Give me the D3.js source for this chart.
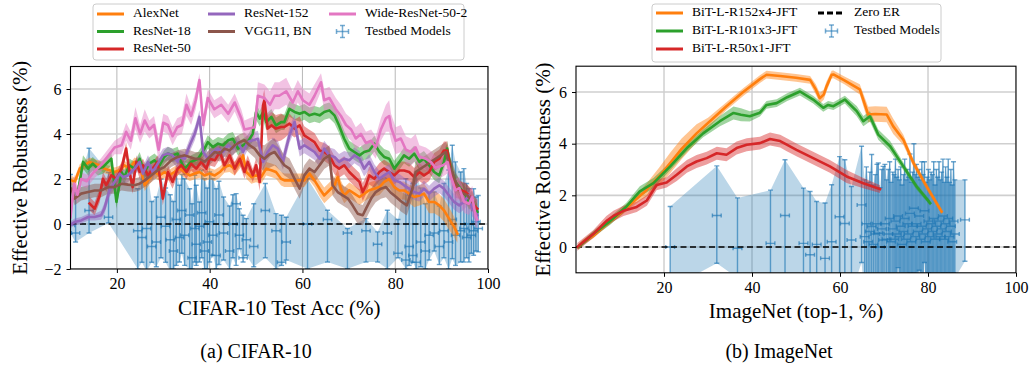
<!DOCTYPE html>
<html><head><meta charset="utf-8">
<script src="https://cdn.jsdelivr.net/npm/d3@7"></script>
<style>
body{margin:0;background:#fff}
svg{display:block}
text{font-family:"Liberation Serif","Times New Roman",serif;fill:#000}
</style>
</head><body>
<svg id="c" width="1030" height="370"></svg>
<script>
// ---------------- CIFAR-10 data: [acc, effective robustness, band half-width] ----------------
const cifarAlexNet = [[10.2,1.94,.2],[10.9,1.87,.2],[12.0,2.46,.2],[13.0,2.61,.2],[14.1,2.76,.2],[15.2,2.68,.2],[16.3,2.61,.2],[17.3,2.46,.2],[18.4,2.39,.2],[19.5,2.31,.2],[20.6,2.39,.2],[21.6,2.61,.2],[22.7,2.46,.2],[23.8,2.76,.2],[24.9,2.61,.25],[26.0,1.72,.25],[27.0,2.01,.25],[28.1,2.31,.25],[29.2,2.16,.25],[30.3,2.31,.25],[31.3,2.16,.25],[32.4,2.31,.25],[33.5,2.46,.25],[34.6,2.31,.25],[35.7,2.16,.25],[36.8,2.24,.25],[37.8,2.31,.25],[38.9,2.16,.25],[40.0,2.24,.25],[41.1,2.16,.25],[42.2,2.31,.25],[43.2,2.53,.25],[44.3,2.61,.3],[45.4,2.46,.3],[46.5,2.76,.3],[47.2,3.05,.3],[47.9,2.31,.3],[49.0,2.09,.3],[50.0,2.16,.3],[51.1,2.09,.3],[52.2,2.46,.3],[53.3,2.39,.3],[54.3,2.31,.3],[55.4,2.01,.3],[56.1,1.94,.3],[57.2,1.94,.3],[58.3,1.94,.3],[59.4,1.94,.3],[60.4,1.94,.3],[61.5,2.24,.3],[62.6,1.94,.3],[63.7,1.57,.35],[64.7,1.27,.35],[65.8,1.5,.35],[66.9,1.72,.35],[67.6,2.09,.35],[68.3,1.57,.35],[69.0,1.27,.35],[70.1,1.5,.35],[71.2,1.35,.35],[72.3,1.2,.35],[73.3,1.35,.35],[74.4,1.5,.35],[75.5,1.57,.35],[76.6,1.64,.35],[77.6,1.87,.35],[78.7,2.0,.35],[79.8,1.64,.4],[80.9,1.49,.4],[81.9,1.49,.4],[83.0,1.35,.4],[84.1,1.2,.45],[85.2,1.27,.45],[86.2,1.35,.45],[87.3,0.98,.5],[88.4,0.98,.5],[89.5,0.83,.5],[90.5,0.61,.5],[91.6,0.24,.5],[92.7,-0.13,.45],[93.4,-0.43,.4]];
const cifarResNet18 = [[11.6,1.4,.3],[12.7,2.76,.3],[13.8,2.46,.3],[14.8,2.68,.3],[15.9,2.46,.3],[17.0,2.53,.3],[18.1,2.76,.3],[18.8,2.9,.3],[19.9,0.98,.3],[21.0,2.31,.3],[21.6,2.09,.3],[22.7,2.61,.3],[23.8,2.46,.3],[24.9,2.9,.3],[25.9,2.31,.3],[27.0,2.68,.3],[28.1,2.83,.3],[29.2,2.61,.3],[30.2,2.98,.3],[31.0,3.13,.3],[32.0,3.05,.3],[33.1,3.13,.3],[33.5,2.9,.3],[34.6,2.46,.3],[36.0,2.76,.3],[37.5,2.9,.3],[38.9,3.35,.3],[39.6,3.64,.3],[40.7,3.42,.3],[41.8,3.57,.3],[42.9,3.5,.3],[44.0,3.72,.3],[45.0,3.79,.3],[46.1,3.35,.3],[47.2,3.5,.3],[48.2,3.64,.3],[49.3,4.02,.35],[50.0,4.98,.35],[50.8,4.68,.35],[51.5,4.98,.35],[52.2,4.53,.35],[53.3,4.76,.35],[54.3,4.38,.35],[55.4,4.53,.35],[56.1,4.53,.35],[57.2,5.12,.35],[58.3,4.98,.35],[59.4,4.9,.35],[60.4,4.98,.35],[61.5,4.83,.35],[62.6,4.9,.35],[63.7,4.83,.35],[64.7,4.98,.35],[65.8,5.05,.35],[66.9,4.83,.35],[67.9,4.38,.35],[69.0,3.79,.35],[70.1,3.35,.35],[71.2,3.2,.35],[72.3,3.05,.35],[73.3,3.2,.35],[74.4,3.27,.35],[75.5,3.57,.35],[76.6,3.2,.35],[77.6,2.98,.35],[78.7,2.9,.35],[79.8,2.46,.35],[80.9,2.76,.35],[81.9,3.05,.35],[83.0,2.9,.35],[84.1,3.13,.35],[85.2,2.76,.35],[86.2,2.9,.35],[87.3,2.61,.35],[88.4,2.31,.35],[89.5,2.16,.35],[90.5,2.76,.35],[91.2,3.35,.35],[92.0,2.46,.35],[93.0,1.87,.35],[94.1,1.57,.35],[95.2,1.27,.35],[95.9,0.98,.35],[96.6,1.13,.35],[97.3,0.68,.35],[97.7,0.54,.35]];
const cifarResNet50 = [[14.1,0.91,.3],[15.2,0.68,.3],[16.3,1.27,.3],[17.0,2.01,.3],[17.7,1.72,.3],[18.8,2.16,.3],[19.9,2.01,.3],[21.0,2.46,.3],[22.0,3.35,.3],[22.7,2.31,.3],[23.4,1.64,.3],[24.2,2.76,.3],[24.9,2.31,.3],[25.6,2.61,.3],[26.7,2.16,.3],[27.7,2.46,.3],[28.8,2.76,.3],[29.9,1.13,.3],[31.0,2.31,.3],[32.0,1.87,.3],[33.1,2.46,.3],[33.9,2.61,.3],[35.0,2.31,.3],[36.0,2.68,.3],[37.1,2.46,.3],[38.2,2.76,.3],[39.3,2.46,.3],[40.0,2.9,.3],[41.1,2.83,.3],[42.2,3.2,.3],[43.2,2.61,.3],[44.3,3.05,.3],[45.4,2.46,.3],[46.5,2.9,.3],[47.5,2.31,.3],[48.2,2.76,.3],[49.3,2.16,.3],[50.0,2.61,.3],[50.8,1.87,.4],[51.5,5.27,.5],[51.8,5.49,.5],[52.5,4.24,.6],[53.3,4.38,.6],[54.3,4.24,.6],[55.4,4.31,.6],[56.1,4.31,.5],[57.2,4.46,.45],[58.3,4.24,.4],[59.4,4.38,.4],[60.4,3.94,.4],[61.5,3.79,.4],[62.6,3.64,.4],[63.7,3.27,.4],[64.7,3.2,.4],[65.8,3.05,.4],[66.9,2.61,.4],[67.9,2.46,.4],[69.0,2.61,.4],[70.1,2.31,.4],[71.2,2.09,.4],[72.3,1.87,.4],[73.0,1.42,.4],[73.7,1.72,.4],[74.4,2.16,.4],[75.5,2.01,.4],[76.6,2.31,.4],[77.6,2.46,.4],[78.7,2.31,.4],[79.8,2.16,.4],[80.9,2.38,.4],[81.9,2.38,.4],[83.0,2.31,.4],[84.1,2.09,.4],[85.2,2.31,.4],[86.2,2.16,.4],[87.3,2.31,.4],[88.4,2.76,.4],[89.5,2.9,.4],[90.5,3.27,.4],[91.2,3.27,.4],[92.0,2.38,.4],[93.0,1.57,.4],[94.1,1.5,.4],[95.2,1.42,.4],[95.9,1.27,.4],[96.6,1.13,.4],[97.0,0.83,.4],[97.7,0.68,.4]];
const cifarResNet152 = [[9.8,-0.06,.15],[10.9,0.09,.15],[12.3,0.16,.15],[13.8,0.31,.15],[15.2,0.31,.15],[16.6,0.39,.2],[17.3,0.68,.25],[18.4,1.49,.3],[19.5,1.87,.3],[20.6,2.24,.3],[21.3,2.09,.3],[22.4,2.16,.3],[23.1,2.31,.3],[23.8,2.46,.3],[24.9,2.76,.3],[25.6,2.24,.3],[26.7,2.76,.3],[27.7,2.31,.3],[28.8,2.68,.3],[29.9,3.05,.3],[31.0,3.13,.3],[32.0,3.05,.3],[33.1,2.76,.3],[33.5,2.98,.3],[34.6,2.9,.3],[35.7,3.5,.3],[36.8,4.02,.3],[37.8,4.76,.3],[38.6,3.2,.3],[39.6,2.9,.3],[40.7,3.2,.3],[41.8,3.35,.3],[42.9,3.2,.3],[44.0,3.5,.3],[45.0,3.35,.3],[46.1,3.64,.3],[47.2,3.2,.3],[48.2,3.64,.35],[49.3,3.72,.35],[50.4,3.79,.35],[51.5,2.76,.35],[52.5,3.2,.35],[53.6,3.5,.35],[54.7,3.35,.35],[55.8,2.76,.35],[56.1,3.05,.35],[57.2,3.94,.35],[58.3,4.53,.35],[59.4,3.35,.35],[60.4,3.5,.35],[61.5,3.35,.35],[62.6,3.2,.35],[63.7,2.9,.35],[64.7,3.35,.35],[65.8,3.05,.35],[66.9,2.98,.35],[67.9,2.76,.35],[69.0,2.9,.35],[70.1,2.83,.35],[71.2,3.05,.35],[72.3,2.9,.35],[73.3,2.46,.35],[74.4,2.76,.35],[75.5,2.31,.35],[76.6,2.01,.35],[77.6,2.16,.35],[78.7,2.31,.35],[79.8,1.94,.35],[80.9,1.87,.35],[81.9,1.72,.35],[83.0,1.57,.35],[84.1,1.42,.35],[85.2,1.35,.35],[86.2,1.57,.35],[87.3,1.35,.35],[88.4,1.57,.35],[89.5,1.72,.35],[90.5,1.57,.35],[91.6,1.27,.35],[92.7,0.98,.35],[93.8,0.83,.35],[94.8,0.98,.35],[95.9,1.27,.35],[96.6,0.68,.35],[97.7,0.39,.35]];
const cifarVGG11 = [[9.5,1.64,.3],[10.2,1.57,.3],[10.9,1.13,.3],[12.3,1.35,.3],[13.8,1.42,.3],[15.2,1.49,.3],[16.6,1.49,.3],[18.1,1.64,.3],[19.5,1.64,.3],[21.0,1.79,.3],[22.4,1.75,.3],[23.8,1.72,.3],[24.9,1.79,.3],[26.0,1.94,.3],[27.4,2.16,.3],[28.8,2.39,.3],[30.2,2.53,.3],[31.7,2.83,.3],[33.1,2.98,.3],[34.6,3.05,.3],[35.7,2.98,.3],[36.8,2.9,.3],[37.8,2.9,.3],[38.9,2.76,.3],[40.0,2.98,.35],[41.1,3.2,.35],[42.2,3.13,.35],[43.2,3.35,.35],[44.3,3.27,.35],[45.4,3.5,.35],[46.5,3.64,.35],[47.5,3.72,.35],[48.6,3.5,.35],[49.7,3.35,.4],[50.8,3.05,.5],[51.8,2.9,.6],[52.9,3.1,.6],[54.0,3.2,.6],[55.05,2.9,.5],[56.1,2.61,.45],[57.2,2.46,.45],[58.3,2.01,.45],[59.4,1.57,.45],[60.4,2.16,.45],[61.5,2.46,.45],[62.6,2.31,.45],[63.7,2.61,.45],[64.7,2.9,.45],[65.8,3.05,.45],[66.5,1.72,.45],[67.6,1.42,.45],[68.7,1.27,.45],[69.8,1.13,.45],[70.8,0.83,.45],[71.9,0.46,.45],[73.0,0.39,.45],[73.7,0.68,.45],[74.8,1.13,.45],[75.8,1.42,.45],[76.9,1.57,.45],[78.0,1.64,.45],[79.0,1.4,.45],[80.2,1.2,.45],[81.3,1.0,.45],[82.5,0.83,.45],[83.7,1.57,.45],[84.4,2.31,.45],[85.5,2.46,.45],[86.6,2.61,.45],[87.7,2.76,.45],[88.7,2.9,.45],[89.8,3.05,.45],[90.9,3.2,.45],[91.6,2.61,.45],[92.3,2.31,.45],[93.0,1.87,.45],[94.1,1.42,.45],[95.6,1.27,.45],[96.6,0.98,.45]];
const cifarWRN = [[10.0,0.3,.3],[10.8,1.8,.4],[11.5,1.3,.4],[12.3,2.0,.3],[13.5,1.9,.3],[15.0,2.3,.3],[16.5,2.6,.3],[18.0,3.0,.3],[19.5,3.4,.3],[21.0,3.5,.4],[22.0,4.1,.4],[23.0,3.7,.4],[24.0,4.7,.5],[25.0,4.0,.4],[26.0,4.6,.5],[27.0,4.2,.4],[28.0,4.4,.4],[29.0,3.3,.5],[30.0,4.5,.4],[31.0,4.4,.4],[32.0,3.9,.4],[33.0,4.3,.4],[34.0,4.4,.4],[35.0,5.3,.5],[36.0,4.8,.4],[37.0,5.5,.4],[37.8,6.4,.3],[38.6,4.4,.4],[39.6,5.6,.4],[41.0,5.1,.4],[42.5,5.3,.4],[44.0,4.9,.4],[45.4,5.4,.4],[46.8,4.7,.4],[47.5,4.2,.4],[49.7,4.3,.5],[50.4,5.7,.6],[51.8,5.6,.6],[53.0,5.3,.6],[54.0,5.7,.6],[55.0,5.7,.6],[56.5,5.9,.6],[57.9,5.4,.5],[59.0,5.9,.5],[60.1,5.5,.5],[61.5,5.3,.5],[62.6,5.7,.5],[64.0,6.3,.4],[64.7,5.5,.5],[65.8,5.6,.5],[67.2,5.1,.5],[68.3,4.8,.5],[69.4,4.4,.5],[70.5,4.2,.5],[71.5,3.8,.5],[72.6,4.0,.5],[73.7,3.6,.5],[74.8,3.7,.5],[75.8,3.4,.5],[76.9,4.2,.5],[78.0,4.7,.6],[78.7,4.8,.7],[79.1,4.3,.6],[80.1,3.7,.6],[81.2,3.8,.6],[82.3,3.3,.6],[83.4,3.2,.6],[84.4,3.4,.6],[85.2,3.0,.5],[86.6,2.9,.5],[87.7,2.75,.5],[88.7,2.5,.5],[90.2,2.6,.5],[91.3,2.75,.5],[92.0,2.1,.5],[93.0,1.5,.5],[93.8,1.6,.5],[94.8,1.0,.5],[95.9,0.9,.5],[96.6,1.2,.5],[97.3,0.4,.5],[97.7,0.2,.4]];
// testbed models: [acc, ER, lower, upper]
const cifarTestbed = [[10.0,-0.05,-0.43,2.2],[11.1,-0.4,-0.8,1.4],[14.0,0.6,-0.4,3.37],[18.2,0.3,0.05,2.3],[24.5,-0.3,-2.0,1.57],[25.4,-0.6,-1.7,2.31],[26.4,-0.2,-2.1,2.61],[27.5,-1.0,-1.7,1.0],[28.5,-0.8,-1.9,1.2],[29.5,0.3,-1.5,2.0],[30.5,-0.1,-1.7,1.6],[31.5,-0.7,-2.1,1.3],[32.2,-1.2,-2.0,1.0],[32.8,0.2,-1.84,2.31],[33.5,-0.6,-1.69,1.72],[34.0,0.6,-1.3,2.2],[34.6,-0.5,-1.84,2.01],[35.7,0.4,-1.99,1.57],[36.2,-1.5,-2.0,0.9],[36.8,-0.2,-1.69,2.16],[37.1,-0.9,-1.84,1.72],[37.8,-0.1,-1.69,0.98],[38.3,0.5,-1.5,2.4],[38.9,-1.2,-1.99,2.01],[39.5,-0.8,-2.0,1.6],[40.0,0.1,-1.69,2.31],[40.7,-0.5,-1.39,2.01],[41.4,-1.4,-1.99,1.57],[42.0,0.4,-1.8,1.9],[43.0,-0.4,-1.6,1.2],[44.3,-1.2,-2.0,0.8],[45.0,0.0,-1.5,1.3],[45.7,0.9,-1.84,1.35],[46.4,-0.5,-1.1,0.68],[47.2,-1.5,-1.69,0.39],[47.9,-0.7,-1.39,0.24],[49.5,-1.0,-1.9,0.9],[52.0,0.6,-1.5,1.8],[54.3,-0.3,-1.99,0.46],[55.5,-1.7,-1.84,0.39],[56.5,-0.8,-1.6,0.3],[61.1,0.0,-1.99,2.01],[65.4,0.2,-1.69,0.61],[69.7,-0.4,-1.99,-0.2],[73.7,-0.3,-1.69,0.24],[76.2,-0.9,-1.69,-0.35],[78.3,-0.4,-1.99,0.61],[80.6,-1.3,-1.5,0.2],[82.3,-1.6,-1.99,2.01],[83.0,-1.0,-1.84,1.3],[83.8,-1.4,-1.7,1.8],[84.5,-1.7,-1.99,2.2],[85.5,-0.8,-1.9,1.6],[86.5,-1.2,-2.0,0.9],[87.3,-0.5,-1.6,1.4],[88.4,-0.4,-1.2,1.42],[89.5,-1.0,-1.8,0.8],[90.5,-0.3,-1.5,1.8],[91.5,-0.8,-2.0,2.4],[92.3,0.2,-1.54,3.5],[93.0,-0.5,-1.84,2.76],[94.1,-0.3,-1.69,2.31],[94.8,-0.2,-1.69,2.46],[95.4,-0.6,-1.5,1.8],[95.9,0.0,-1.69,1.57],[96.4,-0.5,-1.3,1.0],[96.9,-0.3,-1.39,1.57],[97.4,0.1,-1.2,1.2],[97.9,-0.2,-1.24,1.27]];

// ---------------- ImageNet data ----------------
const inR152x4 = [[0.5,0.0,.1],[1.7,0.2,.1],[4,0.45,.1],[7,0.9,.12],[10,1.3,.12],[13,1.75,.15],[16,2.2,.25],[19,2.75,.35],[21.4,3.25,.4],[24,3.8,.4],[27.4,4.4,.35],[30,4.8,.2],[34.2,5.45,.15],[38,6.0,.15],[41.8,6.5,.15],[43.3,6.67,.15],[46.4,6.62,.15],[50,6.55,.15],[53.2,6.47,.15],[54.5,6.1,.2],[55.4,5.76,.2],[56.3,5.9,.2],[56.9,6.2,.2],[58.1,6.67,.15],[58.5,6.68,.15],[61,6.45,.15],[64.5,6.1,.2],[66.4,5.13,.3],[68,5.15,.3],[70.6,5.13,.3],[72.1,4.67,.3],[74.4,4.15,.2],[76.7,3.25,.15],[79.7,2.34,.12],[83.1,1.37,.1]];
const inR101x3 = [[0.5,0.0,.1],[3.9,0.5,.12],[7.7,1.0,.15],[11.5,1.57,.15],[14.5,2.15,.2],[17.6,2.47,.2],[21.4,3.12,.15],[25.2,3.83,.15],[28.9,4.4,.15],[32.7,4.87,.2],[35.8,5.19,.25],[37.5,5.12,.25],[39.5,5.06,.2],[41.8,5.2,.15],[43.3,5.5,.15],[45.6,5.57,.15],[48,5.8,.15],[50.9,6.02,.15],[53.9,5.71,.15],[56.2,5.39,.15],[57.3,5.5,.15],[58.5,5.45,.15],[61.1,5.71,.15],[63.8,5.26,.2],[65.3,4.87,.2],[66.8,5.06,.2],[68.7,4.35,.2],[71.4,3.9,.2],[74.4,3.12,.15],[77.4,2.34,.12],[80.5,1.7,.1]];
const inR50x1 = [[0.3,0.0,.15],[3.9,0.5,.15],[6.9,1.0,.2],[8.5,1.2,.2],[10.8,1.4,.2],[13.8,1.55,.2],[16.1,1.8,.2],[18.3,2.4,.2],[20.6,2.5,.2],[22.9,2.8,.25],[25.2,3.12,.25],[27.4,3.31,.25],[29.7,3.44,.25],[32,3.63,.25],[34.2,3.57,.25],[36.5,3.83,.25],[38.8,3.96,.25],[41.8,4.02,.25],[44.1,4.18,.25],[46.4,4.1,.25],[47.9,3.96,.25],[50.1,3.76,.25],[53.9,3.44,.25],[57.7,3.12,.25],[61.5,2.73,.25],[65.3,2.47,.2],[69.1,2.24,.15]];
const inTestbed = [[21.4,0.0,-1.6,1.57],[32.0,1.22,-0.63,3.14],[36.7,-0.05,-1.2,1.9],[44.2,0.14,-1.3,2.2],[47.5,1.22,-1.4,3.38],[51.7,0.14,-2.0,2.28],[53.2,-0.3,-2.0,2.15],[54.7,0.1,-1.6,1.76],[56.6,-0.44,-2.0,1.7],[58.1,0.2,-2.0,2.41],[59.9,1.17,-1.2,3.5],[61.1,0.91,-1.5,3.38],[62.6,0.27,-1.8,2.34],[64.9,1.63,-0.6,3.9],
[65.6,0.4,-2.0,2.6],[66.0,0.9,-1.6,3.1],[66.4,0.2,-2.2,2.5],[66.8,0.6,-1.8,2.9],[67.2,0.79,-2.0,3.58],[67.6,0.1,-2.3,2.4],[68.0,0.5,-1.9,2.8],[68.4,0.9,-1.5,3.2],[68.7,0.53,-2.0,3.25],[69.1,0.0,-2.4,2.3],[69.5,0.7,-1.7,3.0],[69.8,0.27,-2.0,3.12],[70.2,0.9,-1.4,3.2],[70.6,0.3,-2.1,2.6],[71.0,0.5,-2.0,3.0],[71.3,1.1,-1.2,3.3],[71.6,0.2,-2.2,2.5],[72.0,0.7,-1.7,2.9],[72.3,0.3,-2.2,2.8],[72.6,1.0,-1.4,3.4],[72.9,0.5,-1.9,2.7],[73.2,1.2,-0.8,3.0],[73.5,0.4,-2.0,2.6],[73.8,0.8,-1.6,3.1],[74.1,0.1,-2.3,2.4],[74.4,0.6,-1.8,2.8],[74.7,1.1,-1.2,3.4],[75.0,0.3,-2.1,2.6],[75.3,0.9,-1.4,3.0],[75.6,0.5,-1.8,2.7],[75.9,1.3,-1.0,3.6],[76.2,0.2,-2.2,2.5],[76.5,0.8,-1.5,2.9],[76.8,1.5,-1.0,4.0],[77.1,0.4,-2.0,2.8],[77.4,0.9,-1.4,3.2],[77.7,0.6,-1.6,2.7],[78.0,1.2,-0.9,3.0],[78.3,0.3,-2.0,2.6],[78.6,0.8,-1.7,3.3],[78.9,0.5,-1.6,2.8],[79.2,1.4,-0.6,3.3],[79.5,0.2,-2.1,2.5],[79.8,0.7,-1.3,2.7],[80.1,1.0,-1.0,3.0],[80.4,0.4,-1.8,2.6],[80.7,0.9,-1.1,2.9],[81.0,0.6,-1.6,2.8],[81.3,1.1,-1.1,3.3],[81.6,0.3,-1.8,2.4],[81.9,0.8,-1.4,3.0],[82.2,0.5,-1.6,2.7],[82.5,1.0,-1.2,3.3],[82.8,0.4,-1.7,2.6],[83.1,0.7,-1.4,2.9],[83.4,1.2,-1.0,3.4],[83.7,0.3,-1.8,2.5],[84.0,0.9,-1.2,3.1],[84.3,0.6,-1.5,2.7],[84.6,1.1,-1.0,3.4],[84.9,0.4,-1.5,2.5],[85.2,0.8,-1.3,3.0],[85.5,0.2,-1.6,2.4],[85.8,1.0,-1.0,3.3],[86.1,0.5,-1.2,2.6],[88.4,1.05,-0.55,2.6]];

const cifarXTicks = [20,40,60,80,100];
const cifarYTicks = [-2,0,2,4,6];
const inXTicks = [20,40,60,80,100];
const inYTicks = [0,2,4,6];

const C = {orange:"#ff7f0e", green:"#2ca02c", red:"#d62728", purple:"#9467bd", brown:"#8c564b", pink:"#e377c2", blue:"#1f77b4"};

const svg = d3.select("#c");
let clipId = 0;

function panel(cfg){
  const x = d3.scaleLinear().domain(cfg.xd).range([cfg.L, cfg.R]);
  const y = d3.scaleLinear().domain(cfg.yd).range([cfg.B, cfg.T]);
  const tb = d3.sort(cfg.tb, d => d[0]);
  const g = svg.append("g");
  const id = "clip" + (clipId++);
  g.append("clipPath").attr("id", id).append("rect")
    .attr("x", cfg.L).attr("y", cfg.T).attr("width", cfg.R - cfg.L).attr("height", cfg.B - cfg.T);
  const p = g.append("g").attr("clip-path", `url(#${id})`);
  // grid
  p.selectAll(".vg").data(cfg.xt).enter().append("line")
    .attr("x1", d => x(d)).attr("x2", d => x(d)).attr("y1", cfg.T).attr("y2", cfg.B)
    .attr("stroke", "#b0b0b0").attr("stroke-width", 0.9);
  p.selectAll(".hg").data(cfg.yt).enter().append("line")
    .attr("y1", d => y(d)).attr("y2", d => y(d)).attr("x1", cfg.L).attr("x2", cfg.R)
    .attr("stroke", "#cfcfcf").attr("stroke-width", 1.6);
  // testbed shade
  p.append("path").datum(tb)
    .attr("d", d3.area().x(d => x(d[0])).y0(d => y(d[2])).y1(d => y(d[3])))
    .attr("fill", C.blue).attr("fill-opacity", 0.3);
  // error bars
  const eb = p.append("g").attr("stroke", C.blue).attr("stroke-opacity", 0.65).attr("stroke-width", 1.4).attr("fill", "none");
  tb.forEach(d => {
    const cx = x(d[0]);
    eb.append("line").attr("x1", cx).attr("x2", cx).attr("y1", y(d[2])).attr("y2", y(d[3]));
    eb.append("line").attr("x1", cx - 2.5).attr("x2", cx + 2.5).attr("y1", y(d[2])).attr("y2", y(d[2]));
    eb.append("line").attr("x1", cx - 2.5).attr("x2", cx + 2.5).attr("y1", y(d[3])).attr("y2", y(d[3]));
    const xe = cfg.xerr;
    eb.append("line").attr("x1", x(d[0] - xe)).attr("x2", x(d[0] + xe)).attr("y1", y(d[1])).attr("y2", y(d[1]));
    eb.append("line").attr("x1", x(d[0] - xe)).attr("x2", x(d[0] - xe)).attr("y1", y(d[1]) - 2).attr("y2", y(d[1]) + 2);
    eb.append("line").attr("x1", x(d[0] + xe)).attr("x2", x(d[0] + xe)).attr("y1", y(d[1]) - 2).attr("y2", y(d[1]) + 2);
  });
  // zero line
  p.append("line").attr("x1", cfg.L).attr("x2", cfg.R).attr("y1", y(0)).attr("y2", y(0))
    .attr("stroke", "#000").attr("stroke-width", 1.6).attr("stroke-dasharray", "6,3.5");
  // bands + lines
  cfg.series.forEach(s => {
    p.append("path").datum(s.data)
      .attr("d", d3.area().x(d => x(d[0])).y0(d => y(d[1] - d[2])).y1(d => y(d[1] + d[2])))
      .attr("fill", s.color).attr("fill-opacity", 0.45);
  });
  cfg.series.forEach(s => {
    p.append("path").datum(s.data)
      .attr("d", d3.line().x(d => x(d[0])).y(d => y(d[1])))
      .attr("fill", "none").attr("stroke", s.color).attr("stroke-width", 2.6)
      .attr("stroke-linejoin", "round").attr("stroke-linecap", "square");
  });
  // frame
  g.append("rect").attr("x", cfg.L).attr("y", cfg.T).attr("width", cfg.R - cfg.L).attr("height", cfg.B - cfg.T)
    .attr("fill", "none").attr("stroke", "#000").attr("stroke-width", 1.1);
  // axes
  const ax = g.append("g").attr("transform", `translate(0,${cfg.B})`)
    .call(d3.axisBottom(x).tickValues(cfg.xt).tickSize(4).tickSizeOuter(0).tickPadding(5));
  ax.select(".domain").remove();
  ax.selectAll("text").attr("font-size", 16).attr("font-family", "Liberation Serif");
  const ay = g.append("g").attr("transform", `translate(${cfg.L},0)`)
    .call(d3.axisLeft(y).tickValues(cfg.yt).tickSize(4).tickSizeOuter(0).tickPadding(5));
  ay.select(".domain").remove();
  ay.selectAll("text").attr("font-size", 16).attr("font-family", "Liberation Serif");
  // labels
  g.append("text").attr("x", (cfg.L + cfg.R) / 2).attr("y", cfg.xlY).attr("text-anchor", "middle")
    .attr("dominant-baseline", "middle").attr("font-size", 21).text(cfg.xlabel);
  g.append("text").attr("transform", `translate(${cfg.ylX},${(cfg.T + cfg.B) / 2}) rotate(-90)`)
    .attr("text-anchor", "middle").attr("dominant-baseline", "middle").attr("font-size", 21)
    .text("Effective Robustness (%)");
  g.append("text").attr("x", cfg.capX).attr("y", 353).attr("text-anchor", "middle")
    .attr("dominant-baseline", "middle").attr("font-size", 20).text(cfg.caption);
}

function legend(box, items){
  const g = svg.append("g");
  g.append("rect").attr("x", box.x).attr("y", box.y).attr("width", box.w).attr("height", box.h)
    .attr("rx", 3).attr("fill", "#fff").attr("fill-opacity", 0.85).attr("stroke", "#cccccc").attr("stroke-width", 1);
  items.forEach(it => {
    if (it.type === "line") {
      g.append("line").attr("x1", it.x).attr("x2", it.x + 27).attr("y1", it.y).attr("y2", it.y)
        .attr("stroke", it.color).attr("stroke-width", 3)
        .attr("stroke-dasharray", it.dash || null);
    } else {
      const cx = it.x + 13.5;
      const e = g.append("g").attr("stroke", C.blue).attr("stroke-opacity", 0.6).attr("stroke-width", 1.5);
      e.append("line").attr("x1", cx - 6).attr("x2", cx + 6).attr("y1", it.y).attr("y2", it.y);
      e.append("line").attr("x1", cx).attr("x2", cx).attr("y1", it.y - 6).attr("y2", it.y + 6);
      e.append("line").attr("x1", cx - 2.5).attr("x2", cx + 2.5).attr("y1", it.y - 6).attr("y2", it.y - 6);
      e.append("line").attr("x1", cx - 2.5).attr("x2", cx + 2.5).attr("y1", it.y + 6).attr("y2", it.y + 6);
      e.append("line").attr("x1", cx - 6).attr("x2", cx - 6).attr("y1", it.y - 2.5).attr("y2", it.y + 2.5);
      e.append("line").attr("x1", cx + 6).attr("x2", cx + 6).attr("y1", it.y - 2.5).attr("y2", it.y + 2.5);
    }
    g.append("text").attr("x", it.x + 36).attr("y", it.y).attr("dominant-baseline", "middle")
      .attr("font-size", 13.5).text(it.label);
  });
}

panel({L:70.5, R:488, T:66.5, B:269, xd:[10,100], yd:[-2,7], xt:cifarXTicks, yt:cifarYTicks,
  tb:cifarTestbed, xerr:0.9,
  series:[{data:cifarAlexNet,color:C.orange},{data:cifarResNet18,color:C.green},{data:cifarResNet50,color:C.red},
          {data:cifarResNet152,color:C.purple},{data:cifarVGG11,color:C.brown},{data:cifarWRN,color:C.pink}],
  xlabel:"CIFAR-10 Test Acc (%)", xlY:310, ylX:22, capX:256, caption:"(a) CIFAR-10"});

panel({L:576, R:1016, T:66.2, B:272.8, xd:[0,100], yd:[-1,7], xt:inXTicks, yt:inYTicks,
  tb:inTestbed, xerr:1.0,
  series:[{data:inR152x4,color:C.orange},{data:inR101x3,color:C.green},{data:inR50x1,color:C.red}],
  xlabel:"ImageNet (top-1, %)", xlY:313, ylX:545, capX:779, caption:"(b) ImageNet"});

legend({x:93, y:4, w:371, h:56}, [
  {type:"line", x:97, y:14, color:C.orange, label:"AlexNet"},
  {type:"line", x:97, y:31.5, color:C.green, label:"ResNet-18"},
  {type:"line", x:97, y:49, color:C.red, label:"ResNet-50"},
  {type:"line", x:208, y:14, color:C.purple, label:"ResNet-152"},
  {type:"line", x:208, y:31.5, color:C.brown, label:"VGG11, BN"},
  {type:"line", x:329, y:14, color:C.pink, label:"Wide-ResNet-50-2"},
  {type:"eb", x:329, y:31.5, label:"Testbed Models"}
]);
legend({x:652, y:4, w:289, h:58}, [
  {type:"line", x:656, y:13, color:C.orange, label:"BiT-L-R152x4-JFT"},
  {type:"line", x:656, y:31, color:C.green, label:"BiT-L-R101x3-JFT"},
  {type:"line", x:656, y:49, color:C.red, label:"BiT-L-R50x1-JFT"},
  {type:"line", x:818, y:13, color:"#000", dash:"6,3", label:"Zero ER"},
  {type:"eb", x:818, y:31, label:"Testbed Models"}
]);
</script>
</body></html>
